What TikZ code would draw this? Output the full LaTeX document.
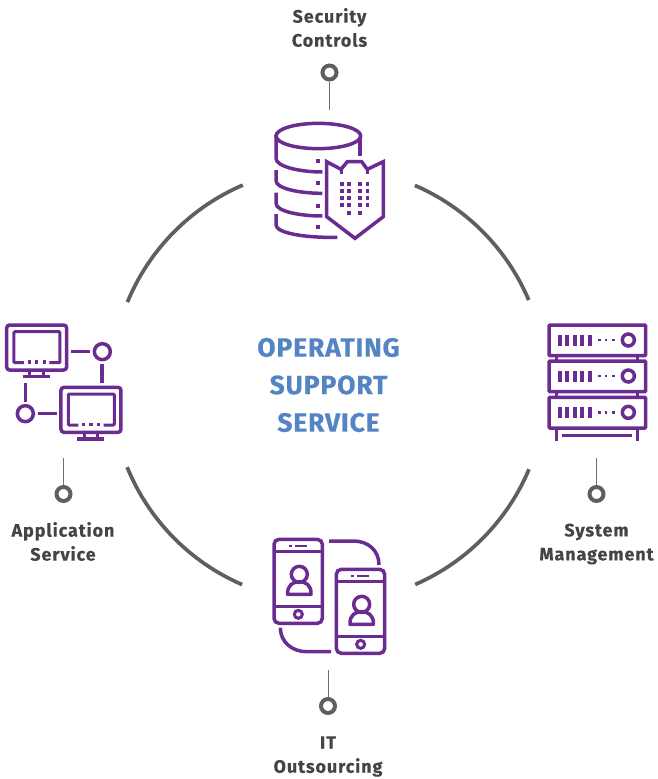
\documentclass[tikz,border=0pt]{standalone}
\usepackage{fontspec}
\setmainfont[LetterSpace=5,FakeBold=0.25]{Fira Sans}
\newfontfamily\ttlfont[LetterSpace=3.2,FakeBold=0.4]{Fira Sans}
\definecolor{iconc}{HTML}{6B2C91}
\definecolor{arcc}{HTML}{5F5F5F}
\definecolor{stemc}{HTML}{707070}
\definecolor{labc}{HTML}{444444}
\definecolor{titlec}{HTML}{5584C4}
\tikzset{
 ico/.style={draw=iconc,line width=3.5pt,fill=none},
 icof/.style={fill=iconc,draw=none},
 ringarc/.style={draw=arcc,line width=3.7pt},
 stem/.style={draw=stemc,line width=1pt},
 pin/.style={circle,draw=arcc,line width=4pt,minimum size=14pt,inner sep=0pt,fill=white},
 lab/.style={font=\fontsize{18}{24}\selectfont\bfseries,text=labc,align=center,inner sep=0pt},
 ttl/.style={font=\ttlfont\fontsize{26.5}{37.5}\selectfont\bfseries,text=titlec,align=center,inner sep=0pt},
}
\newcommand{\sq}[3]{\fill[iconc] (#1-#3,#2-#3) rectangle (#1+#3,#2+#3);}
\newcommand{\monitor}{%
 \draw[ico,rounded corners=3pt] (20,30) rectangle (200,165);
 \draw[ico,line width=3pt,rounded corners=1pt] (72,143) -- (42,143) -- (42,50) -- (180,50) -- (180,143) -- (148,143);
 \sq{88}{141}{5}\sq{110}{141}{5}\sq{133}{141}{5}
 \draw[ico,line width=3pt] (90,165) -- (90,185) (130,165) -- (130,185);
 \draw[ico] (69,185) -- (150,185);
}
\newcommand{\rackrow}{%
 \draw[ico,rounded corners=1pt] (27,30) rectangle (317,122);
 \foreach \xx in {60,82,105,127,150}{\fill[iconc] (\xx-6,60) rectangle (\xx+6,92);}
 \sq{178}{75}{4}\sq{198}{75}{4}\sq{220}{75}{4}
 \draw[ico] (265,75) circle (18);
}
\newcommand{\phone}{%
 \draw[ico,rounded corners=5pt] (27,28) rectangle (172,280);
 \draw[ico,line width=3pt] (27,65) -- (172,65) (27,228) -- (172,228);
 \sq{76}{48}{4}
 \fill[iconc] (90,44) rectangle (126,52);
 \draw[ico,line width=3pt] (100,253) circle (12);
 \draw[ico] (103,133) circle (24);
 \draw[ico,line join=round] (68,193) .. controls (66,165) and (85,155) .. (103,155) .. controls (121,155) and (140,165) .. (138,193) -- cycle;
}
\begin{document}
\begin{tikzpicture}[x=1pt,y=-1pt]
\useasboundingbox (0,0) rectangle (657,779);
% ring
\coordinate (ctr) at (328.5,385);
\draw[ringarc] (ctr) ++(157.6:217.5pt) arc[start angle=157.6,end angle=113.2,radius=217.5pt];
\draw[ringarc] (ctr) ++(66.6:217.5pt) arc[start angle=66.6,end angle=23.0,radius=217.5pt];
\draw[ringarc] (ctr) ++(202.2:217.5pt) arc[start angle=202.2,end angle=246.6,radius=217.5pt];
\draw[ringarc] (ctr) ++(293.5:217.5pt) arc[start angle=293.5,end angle=337.2,radius=217.5pt];
% title
\node[ttl] (title) at (328.5,385) {OPERATING\\SUPPORT\\SERVICE};
% pins and labels
\node[pin] (p1) at (329.5,72.5) {};
\coordinate (s1) at (329.5,110);
\draw[stem] (p1) -- (s1);
\node[pin] (p2) at (63.5,494) {};
\coordinate (s2) at (63.5,458);
\draw[stem] (p2) -- (s2);
\node[pin] (p3) at (596.5,494) {};
\coordinate (s3) at (596.5,458);
\draw[stem] (p3) -- (s3);
\node[pin] (p4) at (328,706) {};
\coordinate (s4) at (328,670);
\draw[stem] (p4) -- (s4);
\node[lab] (l1) at (329.5,27.5) {Security\\Controls};
\node[lab] (l2) at (63,541.5) {Application\\Service};
\node[lab] (l3) at (596.5,544) {System\\Management};
\node[lab] (l4) at (328,756.5) {IT\\Outsourcing};
% database icon
\begin{scope}[shift={(260,110)},scale=1/3]
 \draw[ico] (175,78) ellipse (127 and 38);
 \draw[ico] (300,85) -- (300,137);
 \draw[ico] (48,80) -- (48,145) .. controls (48,170) and (120,186) .. (187,186);
 \draw[ico] (48,180) -- (48,212) .. controls (48,236) and (120,250) .. (187,250);
 \draw[ico] (48,248) -- (48,280) .. controls (48,304) and (120,318) .. (187,318);
 \draw[ico] (48,312) -- (48,345) .. controls (48,368) and (130,384) .. (232,382);
 \foreach \yy in {152,218,287,352}{\sq{173}{\yy}{6}}
 \draw[ico,line join=miter] (200,155) -- (243,178) -- (262,155) -- (305,155) -- (322,178) -- (370,155) -- (370,320) -- (285,385) -- (200,320) -- cycle;
 \draw[ico,line width=3pt] (243,178) -- (243,192) (322,178) -- (322,192);
 \foreach \xx in {245,267,300,322}{\foreach \yy in {222,243,264,285}{\sq{\xx}{\yy}{5.5}}}
 \sq{267}{308}{5.5}\sq{300}{308}{5.5}
\end{scope}
% network icon
\begin{scope}[shift={(0,315)},scale=1/3]
 \monitor
 \begin{scope}[shift={(163,187)}]\monitor\end{scope}
 \draw[ico] (307,110) circle (24) (76,296) circle (24);
 \draw[ico] (213,110) -- (270,110) (306,148) -- (306,205) (113,296) -- (170,296) (77,205) -- (77,262);
\end{scope}
% rack icon
\begin{scope}[shift={(540,315)},scale=1/3]
 \rackrow
 \begin{scope}[shift={(0,108)}]\rackrow\end{scope}
 \begin{scope}[shift={(0,217)}]\rackrow\end{scope}
 \draw[ico] (50,122) -- (50,138) (292,122) -- (292,138) (50,230) -- (50,247) (292,230) -- (292,247);
 \draw[ico] (50,340) -- (50,378) (292,340) -- (292,378) (65,362) -- (276,362);
\end{scope}
% phones icon
\begin{scope}[shift={(265,530)},scale=1/3]
 \phone
 \begin{scope}[shift={(187,90)}]\phone\end{scope}
 \draw[ico] (192,33) -- (265,33) .. controls (310,33) and (342,62) .. (342,105);
 \draw[ico] (46,293) .. controls (46,335) and (80,365) .. (125,365) -- (198,365);
\end{scope}
\end{tikzpicture}
\end{document}
